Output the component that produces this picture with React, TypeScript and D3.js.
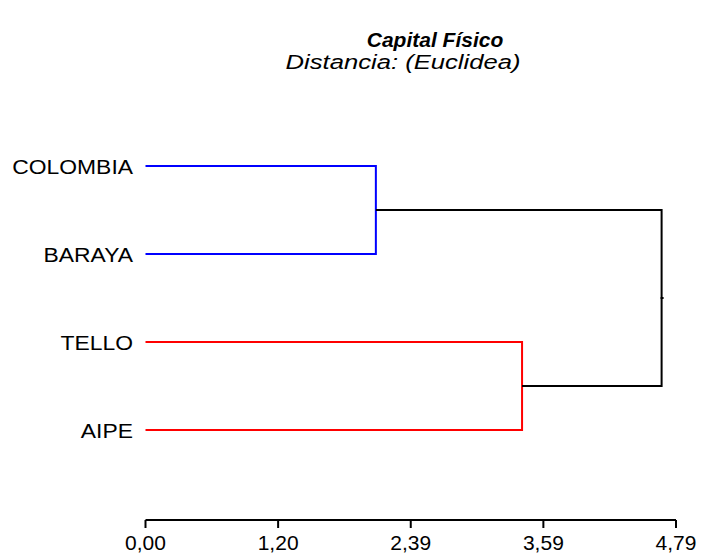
import * as d3 from "d3";
import { useEffect } from "react";

const leaves = ["COLOMBIA", "BARAYA", "TELLO", "AIPE"];
// merges: [left, right, height] - indices >= leaves.length refer to earlier merges
const merges: [number, number, number][] = [
  [0, 1, 2.08],
  [2, 3, 3.4],
  [4, 5, 4.66],
];
const clusterColors = ["#0000ff", "#ff0000", "#000000"];
const axisMax = 4.79;
const tickLabels = ["0,00", "1,20", "2,39", "3,59", "4,79"];

const width = 704;
const height = 554;
const font = "Arial, 'Liberation Sans', sans-serif";

// stretched text, like the GDI rendering in the source image
function Wide({ x, y, sx, anchor, size, children, weight, italic }: any) {
  return (
    <g transform={`translate(${x},${y}) scale(${sx},1)`}>
      <text textAnchor={anchor} fontFamily={font} fontSize={size} fontWeight={weight} fontStyle={italic ? "italic" : undefined}>
        {children}
      </text>
    </g>
  );
}

export default function App() {
  useEffect(() => {
    document.body.style.margin = "0";
  }, []);

  const x = d3.scaleLinear().domain([0, axisMax]).range([145.5, 676]);
  const y = d3.scalePoint<string>().domain(leaves).range([166, 430]);
  const tickValues = tickLabels.map((_, i) => (i * axisMax) / (tickLabels.length - 1));

  // node positions: leaves then merge nodes
  const nodes: { x: number; y: number }[] = leaves.map((name) => ({ x: x(0), y: y(name) ?? 0 }));
  merges.forEach(([a, b, h]) => {
    nodes.push({ x: x(h), y: (nodes[a].y + nodes[b].y) / 2 });
  });

  const root = nodes[nodes.length - 1];

  return (
    <svg width={width} height={height} style={{ display: "block", background: "#fff" }}>
      <Wide x={435} y={47} sx={1.05} anchor="middle" size={20} weight="bold" italic>
        Capital Físico
      </Wide>
      <Wide x={403} y={69} sx={1.25} anchor="middle" size={20.5} italic>
        Distancia: (Euclidea)
      </Wide>

      {merges.map(([a, b, h], i) => {
        const xm = x(h);
        const na = nodes[a];
        const nb = nodes[b];
        const path = `M${na.x},${na.y}H${xm}V${nb.y}H${nb.x}`;
        return <path key={i} d={path} fill="none" stroke={clusterColors[i]} strokeWidth={2} />;
      })}
      <line x1={root.x - 1} x2={root.x + 2} y1={root.y} y2={root.y} stroke="#000" strokeWidth={2} />

      {leaves.map((name) => (
        <Wide key={name} x={133} y={(y(name) ?? 0) + 7.5} sx={1.09} anchor="end" size={21}>
          {name}
        </Wide>
      ))}

      <g>
        <line x1={x(0)} x2={x(axisMax)} y1={520} y2={520} stroke="#000" strokeWidth={2} />
        {tickValues.map((t, i) => (
          <g key={i} transform={`translate(${x(t)},0)`}>
            <line y1={520} y2={528} stroke="#000" strokeWidth={2} />
            <Wide x={0} y={550} sx={1.05} anchor="middle" size={20}>
              {tickLabels[i]}
            </Wide>
          </g>
        ))}
      </g>
    </svg>
  );
}
